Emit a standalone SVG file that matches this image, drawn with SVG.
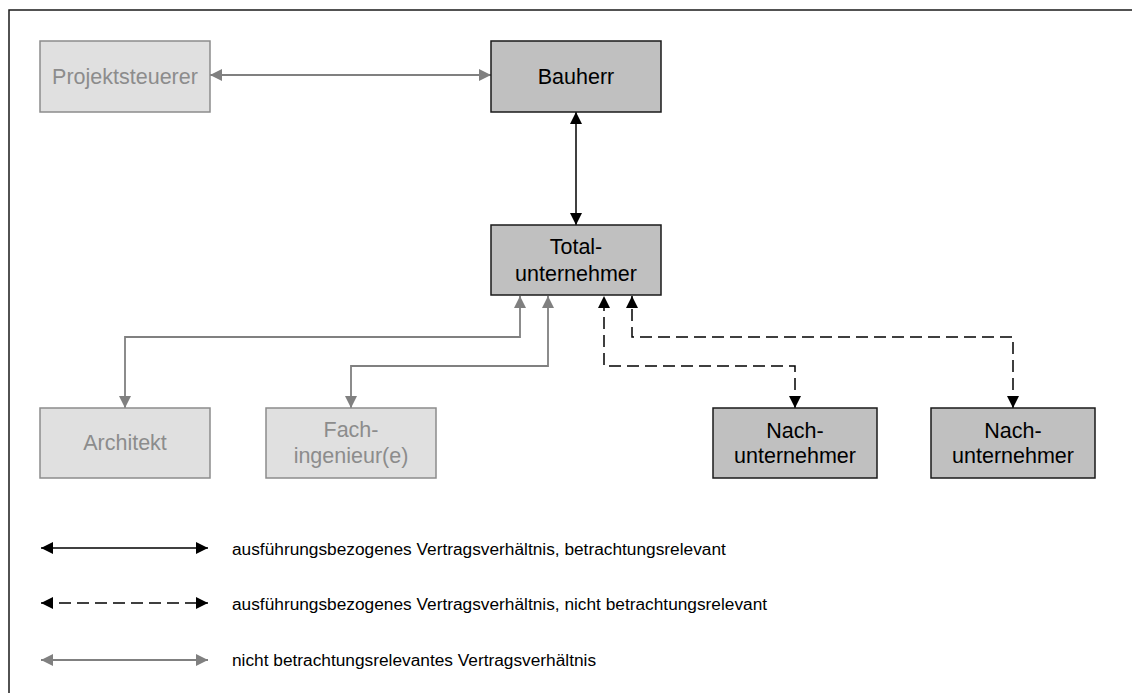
<svg xmlns="http://www.w3.org/2000/svg" width="1132" height="693" viewBox="0 0 1132 693">
  <style>
    .lbl { font-family: "Liberation Sans", Arial, sans-serif; font-size: 21.5px; text-anchor: middle; }
    .leg { font-family: "Liberation Sans", Arial, sans-serif; font-size: 17.3px; fill: #000; }
    .main rect { fill: #c0c0c0; stroke: #1a1a1a; stroke-width: 1.5; }
    .main text { fill: #000; }
    .side rect { fill: #e0e0e0; stroke: #8c8c8c; stroke-width: 1.5; }
    .side text { fill: #8c8c8c; }
    .solid { fill: none; stroke: #000; stroke-width: 1.5; marker-start: url(#ab); marker-end: url(#ab); }
    .dash { fill: none; stroke: #000; stroke-width: 1.5; stroke-dasharray: 12 6; marker-start: url(#ab); marker-end: url(#ab); }
    .grey { fill: none; stroke: #808080; stroke-width: 1.8; marker-start: url(#ag); marker-end: url(#ag); }
  </style>
  <defs>
    <marker id="ab" markerUnits="userSpaceOnUse" markerWidth="12" markerHeight="12" refX="12" refY="6" orient="auto-start-reverse">
      <path d="M0,0 L12,6 L0,12 z" fill="#000"/>
    </marker>
    <marker id="ag" markerUnits="userSpaceOnUse" markerWidth="12" markerHeight="12" refX="12" refY="6" orient="auto-start-reverse">
      <path d="M0,0 L12,6 L0,12 z" fill="#808080"/>
    </marker>
  </defs>

  <rect x="0" y="0" width="1132" height="693" fill="#fff"/>
  <!-- frame (open to the right and bottom) -->
  <rect x="9" y="10" width="1200" height="760" fill="none" stroke="#1a1a1a" stroke-width="1.5"/>

  <g id="connectors">
    <line class="grey" x1="210" y1="75" x2="491" y2="75"/>
    <line class="solid" x1="576" y1="112" x2="576" y2="225"/>
    <path class="grey" d="M125,408 V337 H520 V296"/>
    <path class="grey" d="M351,408 V366 H548 V296"/>
    <path class="dash" d="M795,408 V366 H604 V296"/>
    <path class="dash" d="M1013,408 V337 H632 V296"/>
  </g>

  <g id="projektsteuerer" class="side">
    <rect x="40" y="41" width="170" height="71"/>
    <text class="lbl" x="125" y="84">Projektsteuerer</text>
  </g>
  <g id="bauherr" class="main">
    <rect x="491" y="41" width="170" height="71"/>
    <text class="lbl" x="576" y="84">Bauherr</text>
  </g>
  <g id="totalunternehmer" class="main">
    <rect x="491" y="225" width="170" height="70"/>
    <text class="lbl" x="576" y="254">Total-</text>
    <text class="lbl" x="576" y="281">unternehmer</text>
  </g>
  <g id="architekt" class="side">
    <rect x="40" y="408" width="170" height="70"/>
    <text class="lbl" x="125" y="450">Architekt</text>
  </g>
  <g id="fachingenieure" class="side">
    <rect x="266" y="408" width="170" height="70"/>
    <text class="lbl" x="351" y="437">Fach-</text>
    <text class="lbl" x="351" y="463">ingenieur(e)</text>
  </g>
  <g id="nachunternehmer1" class="main">
    <rect x="713" y="408" width="164" height="70"/>
    <text class="lbl" x="795" y="438">Nach-</text>
    <text class="lbl" x="795" y="463">unternehmer</text>
  </g>
  <g id="nachunternehmer2" class="main">
    <rect x="931" y="408" width="164" height="70"/>
    <text class="lbl" x="1013" y="438">Nach-</text>
    <text class="lbl" x="1013" y="463">unternehmer</text>
  </g>

  <g id="legend">
    <line class="solid" x1="41" y1="548" x2="208" y2="548"/>
    <text class="leg" x="232" y="555">ausführungsbezogenes Vertragsverhältnis, betrachtungsrelevant</text>
    <line class="dash" x1="41" y1="603" x2="208" y2="603" stroke-dasharray="12 7"/>
    <text class="leg" x="232" y="610">ausführungsbezogenes Vertragsverhältnis, nicht betrachtungsrelevant</text>
    <line class="grey" x1="41" y1="660" x2="208" y2="660"/>
    <text class="leg" x="232" y="666">nicht betrachtungsrelevantes Vertragsverhältnis</text>
  </g>
</svg>
